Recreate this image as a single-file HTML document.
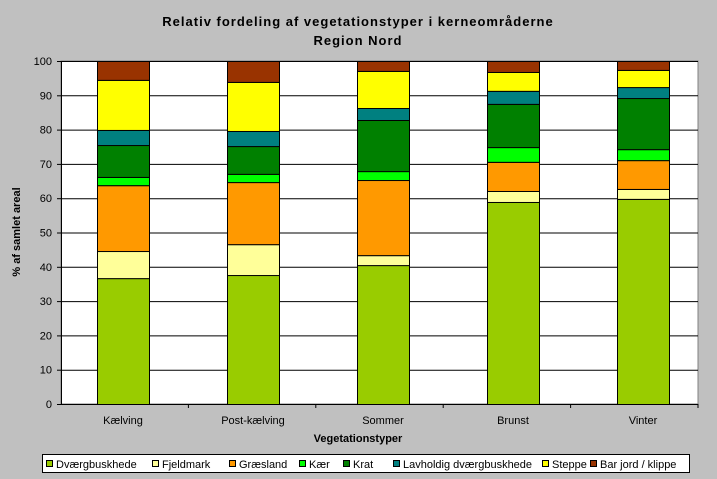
<!DOCTYPE html>
<html><head><style>
body{margin:0;background:#c0c0c0;}
svg{display:block;font-family:"Liberation Sans",Arial,sans-serif;}
</style></head><body>
<svg width="717" height="479" xmlns="http://www.w3.org/2000/svg">
<rect width="717" height="479" fill="#c0c0c0"/>
<text x="358" y="26" font-size="13" font-weight="bold" text-anchor="middle" letter-spacing="1">Relativ fordeling af vegetationstyper i kerneområderne</text>
<text x="358" y="45" font-size="13" font-weight="bold" text-anchor="middle" letter-spacing="1">Region Nord</text>
<rect x="61" y="61" width="637" height="343" fill="#fff" stroke="#808080"/>
<g id="grid" stroke="#000" stroke-width="1"></g>
<g id="bars"></g>
<g id="labels" font-size="11"></g>
<text x="358" y="442" font-size="11" font-weight="bold" text-anchor="middle">Vegetationstyper</text>
<text transform="translate(20,232) rotate(-90)" font-size="11" font-weight="bold" text-anchor="middle">% af samlet areal</text>
<rect x="42.5" y="454.5" width="647" height="18" fill="#fff" stroke="#000"/>
<g id="legend" font-size="11"></g>
</svg>
<script>
const ns="http://www.w3.org/2000/svg";
function el(p,t,a,txt){const e=document.createElementNS(ns,t);for(const k in a)e.setAttribute(k,a[k]);if(txt!=null)e.textContent=txt;document.getElementById(p).appendChild(e);}
const y=v=>404-v*3.43;
for(let v=0;v<=100;v+=10){el('grid','line',{x1:61,x2:698,y1:y(v)+0.5,y2:y(v)+0.5});el('grid','line',{x1:57,x2:61,y1:y(v)+0.5,y2:y(v)+0.5});el('labels','text',{x:52,y:y(v)+4,'text-anchor':'end'},v);}
el('grid','line',{x1:61.5,x2:61.5,y1:61,y2:404});
const cols=['#99cc00','#ffff99','#ff9900','#00ff00','#008000','#008080','#ffff00','#993300'];
const names=['Dværgbuskhede','Fjeldmark','Græsland','Kær','Krat','Lavholdig dværgbuskhede','Steppe','Bar jord / klippe'];
const cats=['Kælving','Post-kælving','Sommer','Brunst','Vinter'];
const data=[[36.7,44.6,63.8,66.2,75.5,79.9,94.5,100],[37.6,46.6,64.7,67.1,75.2,79.6,93.9,100],[40.5,43.4,65.3,67.9,82.8,86.3,97.1,100],[58.9,62.1,70.6,74.9,87.5,91.3,96.8,100],[59.8,62.7,71.1,74.3,89.2,92.4,97.4,100]];
data.forEach((d,i)=>{const x=97+i*130;let prev=0;d.forEach((v,j)=>{el('bars','rect',{x:x+0.5,y:y(v)+0.5,width:52,height:y(prev)-y(v),fill:cols[j],stroke:'#000'});prev=v;});
el('labels','text',{x:x+26,y:424,'text-anchor':'middle'},cats[i]);
el('grid','line',{x1:61+(i+1)*127.4,x2:61+(i+1)*127.4,y1:404,y2:408});});
const lx=[46,152,229,299,343,393,542,590];
names.forEach((n,i)=>{el('legend','rect',{x:lx[i]+0.5,y:460.5,width:6,height:6,fill:cols[i],stroke:'#000'});el('legend','text',{x:lx[i]+10,y:468},n);});
</script>
</body></html>
